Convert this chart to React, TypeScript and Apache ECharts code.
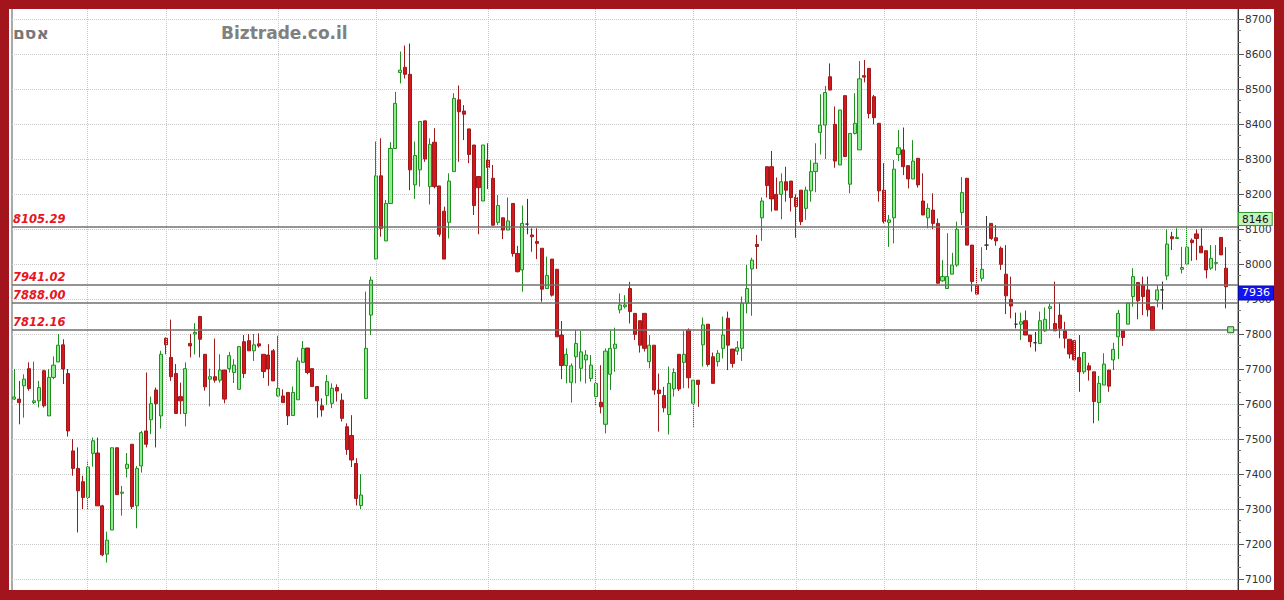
import React, { useEffect, useRef } from "react";
import * as echarts from "echarts";

const opens = [7614,7614,7652,7701,7604,7609,7695,7566,7676,7720,7769,7687,7466,7416,7378,7333,7459,7460,7309,7171,7240,7475,7345,7416,7485,7309,7423,7523,7555,7640,7566,7788,7733,7687,7621,7573,7773,7800,7850,7742,7671,7678,7668,7697,7701,7690,7642,7778,7781,7752,7772,7742,7740,7752,7623,7623,7633,7567,7612,7719,7760,7701,7650,7595,7624,7602,7647,7611,7535,7510,7430,7310,7616,7854,8014,8252,8066,8173,8330,8547,8562,8542,8226,8269,8409,8221,8348,8223,8151,8119,8264,8469,8437,8386,8340,8250,8180,8297,8245,8119,8132,8097,8173,8030,7983,8114,8083,8064,8045,7930,8014,7985,7797,7710,7662,7735,7702,7726,7673,7621,7605,7542,7685,7759,7869,7878,7930,7859,7838,7859,7721,7768,7640,7624,7570,7643,7742,7719,7811,7602,7668,7769,7828,7735,7721,7759,7845,7757,7751,7759,7888,7986,8056,8132,8278,8278,8199,8199,8235,8237,8190,8211,8159,8209,8264,8376,8397,8535,8399,8283,8481,8228,8373,8326,8538,8559,8478,8402,8211,8119,8132,8313,8326,8281,8243,8302,8180,8132,8154,8116,7952,7930,7971,7997,8147,8245,8054,7940,7959,8054,8116,8075,8045,7971,7899,7828,7828,7838,7797,7775,7773,7809,7873,7830,7854,7809,7785,7781,7733,7692,7709,7692,7604,7654,7697,7726,7792,7809,7828,7907,7947,7940,7926,7878,7897,7926,7966,8078,8073,7985,8000,8068,8086,8051,8038,7988,8002,8076,7988];
const closes = [7620,7604,7671,7644,7609,7647,7595,7676,7711,7768,7700,7523,7416,7352,7333,7420,7495,7309,7169,7211,7475,7341,7348,7428,7307,7416,7518,7485,7601,7601,7742,7769,7678,7573,7609,7701,7766,7805,7785,7649,7678,7668,7697,7614,7738,7711,7764,7687,7752,7769,7766,7693,7700,7666,7645,7604,7566,7633,7723,7759,7690,7650,7609,7583,7664,7645,7637,7559,7470,7440,7330,7340,7759,7954,8252,8102,8173,8330,8459,8554,8542,8269,8310,8407,8300,8342,8221,8085,8014,8237,8473,8435,8428,8313,8167,8218,8340,8276,8111,8167,8097,8123,8030,7978,8116,8114,8078,8059,7928,7967,7911,7792,7710,7742,7709,7773,7749,7740,7711,7659,7592,7751,7759,7771,7883,7883,7864,7799,7768,7759,7768,7640,7630,7589,7659,7690,7643,7742,7675,7668,7656,7826,7713,7659,7745,7797,7768,7716,7761,7888,7930,8011,8050,8180,8224,8186,8154,8235,8211,8190,8164,8121,8211,8264,8288,8397,8490,8497,8294,8440,8307,8373,8402,8529,8534,8430,8418,8209,8121,8126,8271,8332,8278,8243,8294,8226,8140,8159,8116,7945,7964,7964,7997,8099,8204,8054,7950,7914,7985,8054,8073,8066,7999,7909,7880,7828,7835,7797,7778,7775,7838,7842,7878,7809,7816,7788,7743,7726,7692,7747,7697,7607,7659,7714,7651,7756,7859,7790,7888,7964,7895,7907,7869,7811,7926,7926,8057,8072,8076,7990,8048,8061,8073,8032,7983,8016,8004,8026,7935];
const lows = [7612,7542,7561,7638,7600,7590,7590,7566,7671,7720,7657,7507,7395,7233,7300,7300,7421,7309,7165,7147,7240,7341,7281,7390,7300,7245,7404,7476,7514,7476,7530,7742,7666,7573,7571,7536,7733,7742,7733,7638,7593,7661,7661,7602,7690,7660,7642,7674,7752,7723,7761,7674,7652,7666,7621,7604,7540,7567,7612,7719,7685,7650,7561,7564,7597,7588,7607,7550,7455,7420,7310,7300,7616,7797,8014,8078,8066,8173,8330,8516,8530,8211,8186,8221,8292,8170,8216,8078,8014,8073,8264,8292,8354,8288,8140,8085,8180,8214,8110,8111,8071,8097,8021,7976,7921,8085,8035,8014,7892,7929,7907,7792,7671,7659,7604,7659,7664,7659,7664,7597,7573,7516,7640,7692,7859,7873,7830,7783,7747,7750,7702,7626,7521,7576,7513,7621,7637,7645,7645,7532,7592,7707,7707,7659,7707,7730,7697,7704,7740,7723,7859,7852,7986,8066,8190,8150,8154,8128,8178,8150,8075,8111,8126,8178,8205,8313,8300,8497,8275,8283,8307,8202,8370,8326,8519,8416,8399,8178,8116,8049,8059,8294,8254,8216,8243,8218,8140,8102,8100,7945,7949,7930,7971,7992,8111,8054,7921,7914,7950,8040,8069,8052,7983,7857,7845,7816,7783,7797,7762,7750,7773,7806,7813,7809,7788,7759,7730,7726,7635,7686,7667,7545,7552,7654,7635,7697,7728,7766,7828,7878,7842,7854,7850,7809,7876,7870,7954,8040,8073,7973,8000,8009,8011,8032,7959,7983,7981,8026,7873];
const highs = [7700,7666,7685,7719,7721,7666,7698,7700,7736,7800,7785,7700,7500,7476,7395,7438,7504,7504,7312,7235,7475,7475,7366,7460,7485,7423,7523,7690,7621,7647,7752,7790,7841,7714,7661,7719,7800,7831,7852,7742,7701,7787,7742,7697,7749,7728,7766,7797,7800,7800,7802,7742,7771,7757,7795,7642,7633,7650,7733,7780,7760,7701,7650,7616,7683,7659,7656,7630,7545,7568,7445,7400,7921,7964,8350,8359,8183,8348,8492,8607,8624,8630,8350,8407,8409,8359,8388,8223,8164,8259,8488,8510,8454,8386,8340,8250,8340,8345,8283,8197,8132,8190,8173,8052,8167,8186,8102,8102,8045,8021,8014,7985,7837,7759,7716,7811,7809,7754,7740,7697,7711,7759,7811,7818,7916,7911,7949,7859,7838,7859,7797,7768,7687,7649,7707,7702,7742,7808,7816,7668,7668,7847,7828,7747,7754,7850,7864,7757,7780,7907,7997,8018,8083,8190,8278,8323,8247,8259,8278,8237,8199,8211,8221,8297,8345,8485,8509,8573,8450,8440,8481,8373,8488,8580,8583,8559,8483,8402,8288,8140,8297,8383,8390,8281,8354,8302,8259,8173,8202,8130,8011,8088,8032,8121,8248,8245,8054,7990,8048,8137,8116,8111,8050,8054,7964,7861,7861,7867,7797,7806,7864,7876,7886,7950,7890,7835,7785,7781,7797,7747,7718,7692,7680,7745,7697,7775,7869,7809,7890,7988,7947,7964,7964,7878,7940,7950,8099,8092,8102,8049,8107,8073,8099,8102,8038,8054,8054,8076,8048];

const monthStarts = [15, 31, 54, 74, 97, 119, 139, 160, 178, 197, 217, 240];
const levels = [8105.29, 7941.02, 7888.0, 7812.16];
const lastPrice = 7936;
const recentHigh = 8146;
const markerLevel = 7812.16;
const stockName = "אסם";
const siteName = "Biztrade.co.il";
const yMin = 7000;
const yMax = 8800;
const yStep = 100;

export default function App() {
  const ref = useRef<HTMLDivElement>(null);
  useEffect(() => {
    const chart = echarts.init(ref.current!, null, { renderer: "svg" });
    const slots = opens.length + 2;
    const cats = Array.from({ length: slots }, (_, i) => String(i));
    const candles = opens.map((o, i) => [o, closes[i], lows[i], highs[i]]);
    const border = "#a3151d";
    const hidden = { color: "rgba(0,0,0,0)", width: 0 };
    chart.setOption({
      animation: false,
      backgroundColor: "#ffffff",
      grid: {
        left: 12,
        right: 46,
        top: -16,
        bottom: -14,
        containLabel: false,
        outerBoundsMode: "none",
        show: true,
        borderColor: "#555",
        borderWidth: 1,
        backgroundColor: "transparent",
      },
      xAxis: {
        type: "category",
        data: cats,
        boundaryGap: true,
        axisLine: { show: false },
        axisTick: { show: false },
        axisLabel: { show: false },
        splitLine: { show: false },
      },
      yAxis: {
        type: "value",
        position: "right",
        min: yMin,
        max: yMax,
        interval: yStep,
        axisLine: { show: true, lineStyle: { color: "#333", width: 1 } },
        axisTick: { show: true, length: 6, lineStyle: { color: "#555" } },
        minorTick: { show: true, splitNumber: 3, length: 3, lineStyle: { color: "#777" } },
        axisLabel: {
          color: "#333",
          fontSize: 10.5,
          fontFamily: "DejaVu Sans",
          margin: 7,
          showMinLabel: false,
          showMaxLabel: false,
          formatter: (v: number) => String(v),
        },
        splitLine: { show: true, lineStyle: { color: "#c8c8c8", type: "dotted", width: 1 } },
      },
      series: [
        {
          type: "line",
          data: [],
          silent: true,
          markLine: {
            silent: true,
            symbol: "none",
            label: { show: false },
            lineStyle: { color: "#c8c8c8", type: "dotted", width: 1 },
            data: monthStarts.map((i) => ({ xAxis: i })),
          },
        },
        {
          type: "candlestick",
          data: candles,
          barWidth: 3.6,
          itemStyle: {
            color: "#90ea90",
            color0: "#d5161d",
            borderColor: "#1f8f1f",
            borderColor0: "#9c1a1a",
            borderColorDoji: "#333",
            borderWidth: 1,
          },
          markLine: {
            silent: true,
            symbol: "none",
            lineStyle: { color: "#707070", width: 1.5, type: "solid" },
            label: {
              show: true,
              position: "insideStartTop",
              distance: [1, 2],
              formatter: (p: any) => Number(p.value).toFixed(2),
              color: "#e8141e",
              fontStyle: "italic",
              fontWeight: "bold",
              fontSize: 11.5,
              fontFamily: "DejaVu Sans",
            },
            data: levels.map((v) => ({ yAxis: v })),
          },
          markPoint: {
            silent: true,
            symbol: "rect",
            symbolSize: 6,
            label: { show: false },
            itemStyle: { color: "#a8e8a0", borderColor: "#2a6a2a", borderWidth: 1 },
            data: [{ coord: [opens.length, markerLevel] }],
          },
        },
        {
          type: "line",
          data: [],
          silent: true,
          z: 10,
          markLine: {
            silent: true,
            symbol: "none",
            lineStyle: hidden,
            data: [
              {
                yAxis: recentHigh,
                lineStyle: hidden,
                label: {
                  show: true,
                  position: "end",
                  distance: 1,
                  offset: [0, 6],
                  formatter: String(recentHigh),
                  color: "#111",
                  fontSize: 10.5,
                  fontFamily: "DejaVu Sans",
                  backgroundColor: "#c4f2bc",
                  borderColor: "#2f9a2f",
                  borderWidth: 1,
                  padding: [1, 3, 0, 3],
                  lineHeight: 11,
                },
              },
              {
                yAxis: lastPrice,
                lineStyle: hidden,
                label: {
                  show: true,
                  position: "end",
                  distance: 1,
                  offset: [0, 6.5],
                  formatter: String(lastPrice),
                  color: "#ffffff",
                  fontSize: 11,
                  fontFamily: "DejaVu Sans",
                  backgroundColor: "#1414f0",
                  borderColor: "#0a0aa0",
                  borderWidth: 1,
                  padding: [1, 3, 0, 3],
                  lineHeight: 12,
                },
              },
            ],
          },
        },
      ],
      graphic: [
        {
          type: "text",
          left: 13,
          top: 24,
          z: 50,
          style: {
            text: stockName,
            fontSize: 17,
            fontWeight: "bold",
            fill: "#777",
            fontFamily: "DejaVu Sans",
          },
        },
        {
          type: "text",
          left: 221,
          top: 24,
          z: 50,
          style: {
            text: siteName,
            fontSize: 17,
            fontWeight: "bold",
            fill: "#808080",
            fontFamily: "DejaVu Sans",
          },
        },
        { type: "rect", z: 100, shape: { x: 0, y: 0, width: 1284, height: 9 }, style: { fill: border } },
        { type: "rect", z: 100, shape: { x: 0, y: 590, width: 1284, height: 10 }, style: { fill: border } },
        { type: "rect", z: 100, shape: { x: 0, y: 0, width: 9, height: 600 }, style: { fill: border } },
        { type: "rect", z: 100, shape: { x: 1274, y: 0, width: 10, height: 600 }, style: { fill: border } },
      ],
    });
    return () => chart.dispose();
  }, []);
  return (
    <div
      ref={ref}
      style={{ position: "absolute", left: 0, top: 0, width: 1284, height: 600 }}
    />
  );
}
